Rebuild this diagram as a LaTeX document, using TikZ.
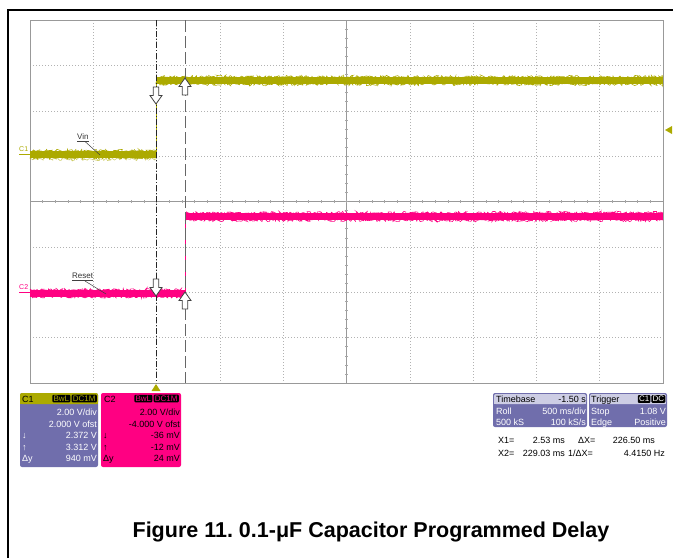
\documentclass[tikz,border=0pt]{standalone}
\usepackage{fontspec}
\setmainfont{Liberation Sans}
\usetikzlibrary{decorations.pathmorphing}
\definecolor{olv}{RGB}{172,170,0}
\definecolor{mag}{RGB}{255,0,130}
\definecolor{prp}{RGB}{112,110,172}
\definecolor{hdr}{RGB}{205,205,228}
\frenchspacing
\tikzset{
  uparr/.pic={\draw[fill=white, line width=0.8pt, draw=black!75, line join=miter] (0,0) -- (-6,8.5) -- (-2.8,8.5) -- (-2.8,17) -- (2.8,17) -- (2.8,8.5) -- (6,8.5) -- cycle;},
  dnarr/.pic={\draw[fill=white, line width=0.8pt, draw=black!75, line join=miter] (0,0) -- (-6,-8.5) -- (-2.8,-8.5) -- (-2.8,-17) -- (2.8,-17) -- (2.8,-8.5) -- (6,-8.5) -- cycle;}
}
\begin{document}
\begin{tikzpicture}[x=1pt,y=-1pt,
  lbl/.style={inner sep=0pt, font=\fontsize{9}{10}\selectfont},
  badge/.style={inner xsep=1.2pt, inner ysep=1pt, fill=black, rounded corners=1pt, font=\fontsize{8}{9}\selectfont},
  gridd/.style={draw=black!30, dash pattern=on 1pt off 2pt, line width=0.5pt},
  gridc/.style={draw=black!40, line width=0.6pt},
  noise/.style={decorate, decoration={random steps, segment length=1.2pt, amplitude=1.6pt}, line width=0.6pt},
  infobox/.style={rounded corners=2pt},
  leader/.style={draw=black!75, line width=0.5pt}
]
\pgfmathsetseed{7}
\useasboundingbox (0,0) rectangle (673,558);
% outer frame
\draw[line width=1.4pt] (8,558) -- (8,10) -- (673,10);

% grid
\foreach \i in {1,2,3,4,6,7,8,9} {
  \draw[gridd] ({30+63.3*\i},20) -- ({30+63.3*\i},383);
}
\foreach \j in {1,2,3,5,6,7} {
  \draw[gridd] (30,{20+45.375*\j}) -- (663,{20+45.375*\j});
}
\draw[gridc] (346.5,20) -- (346.5,383);
\draw[gridc] (30,201.5) -- (663,201.5);
\foreach \k in {1,...,49} {
  \draw[draw=black!35, line width=0.5pt] ({30+12.66*\k},200) -- ({30+12.66*\k},203);
}
\foreach \k in {1,...,39} {
  \draw[draw=black!35, line width=0.5pt] (345,{20+9.075*\k}) -- (348,{20+9.075*\k});
}
\draw[draw=black!40, line width=0.8pt] (30,20) rectangle (663,383);

% C1 trace (olive)
\draw[olv!60, noise] (30,159) -- (156,159);
\fill[olv] (30,151) rectangle (156,158);
\draw[olv, noise] (30,151) -- (156,151);
\draw[olv, noise] (30,157.5) -- (156,157.5);
\draw[olv, line width=0.8pt] (156,158) -- (156,77);
\fill[olv] (156,77) rectangle (663,84);
\draw[olv, noise] (156,77) -- (663,77);
\draw[olv, noise] (156,84) -- (663,84);

% C2 trace (magenta)
\fill[mag] (30,290) rectangle (185,297);
\draw[mag, noise] (30,290) -- (185,290);
\draw[mag, noise] (30,296.5) -- (185,296.5);
\draw[mag, line width=0.8pt] (185,297) -- (185,213);
\fill[mag] (185,213) rectangle (663,220);
\draw[mag, noise] (185,213) -- (663,213);
\draw[mag, noise] (185,220) -- (663,220);

% cursors
\draw[black!85, line width=0.8pt, dash pattern=on 6pt off 2pt on 1pt off 2pt] (156,20) -- (156,383);
\draw[black!60, line width=1pt, dash pattern=on 12pt off 4pt] (185,20) -- (185,383);

% cursor arrows
\pic at (156,104) {dnarr};
\pic at (185,78) {uparr};
\pic at (156,296) {dnarr};
\pic at (185,292) {uparr};

% trigger markers
\fill[olv] (665,130) -- (672,126) -- (672,134) -- cycle;
\fill[olv] (156,384) -- (151.5,391) -- (160.5,391) -- cycle;

% channel markers
\node[lbl, font=\fontsize{7}{8}\selectfont, text=olv, anchor=base west] (c1m) at (19,151) {C1};
\draw[olv, line width=1pt] (19,154.5) -- (30,154.5);
\node[lbl, font=\fontsize{7}{8}\selectfont, text=mag, anchor=base west] (c2m) at (19,289) {C2};
\draw[mag, line width=1pt] (19,292.5) -- (30,292.5);

% trace labels
\node[lbl, font=\fontsize{8}{9}\selectfont, text=black!80, anchor=base west] (vin) at (77,139) {Vin};
\draw[leader] ([yshift=-2pt]vin.base west) -- ([yshift=-2pt]vin.base east);
\coordinate (vinpt) at (100,155);
\draw[leader] (85,141.5) -- (vinpt);
\node[lbl, font=\fontsize{8}{9}\selectfont, text=black!80, anchor=base west] (rst) at (72,278.5) {Reset};
\draw[leader] ([yshift=-2pt]rst.base west) -- ([yshift=-2pt]rst.base east);
\coordinate (rstpt) at (106,294);
\draw[leader] (85,281) -- (rstpt);

% C1 info box
\fill[prp, infobox] (20,393) rectangle (98,467);
\fill[olv, rounded corners=2pt] (20,393) rectangle (98,404);
\fill[olv] (20,400) rectangle (98,404);
\node[lbl, anchor=base west] (c1h) at (22,402) {C1};
\node[badge, text=olv, anchor=east] (c1dc) at (97,398.5) {DC1M};
\node[badge, text=olv, anchor=east] (c1bw) at ([xshift=-1pt]c1dc.west) {BwL};
\node[lbl, text=white, anchor=base east] (c1a) at (97,415.5) {2.00 V/div};
\node[lbl, text=white, anchor=base east] (c1b) at (97,427) {2.000 V ofst};
\node[lbl, text=white, anchor=base east] (c1c) at (97,438.5) {2.372 V};
\node[lbl, text=white, anchor=base east] (c1d) at (97,450) {3.312 V};
\node[lbl, text=white, anchor=base east] (c1e) at (97,461.5) {940 mV};
\node[lbl, text=white, anchor=base west] (c1f) at (22,438.5) {↓};
\node[lbl, text=white, anchor=base west] (c1g) at (22,450) {↑};
\node[lbl, text=white, anchor=base west] (c1i) at (22,461.5) {Δy};

% C2 info box
\fill[mag, infobox] (101,393) rectangle (181,467);
\node[lbl, text=black, anchor=base west] (c2h) at (104,402) {C2};
\node[badge, text=mag, anchor=east] (c2dc) at (179,398.5) {DC1M};
\node[badge, text=mag, anchor=east] (c2bw) at ([xshift=-1pt]c2dc.west) {BwL};
\node[lbl, text=black, anchor=base east] (c2a) at (180,415.5) {2.00 V/div};
\node[lbl, text=black, anchor=base east] (c2b) at (180,427) {-4.000 V ofst};
\node[lbl, text=black, anchor=base east] (c2c) at (180,438.5) {-36 mV};
\node[lbl, text=black, anchor=base east] (c2d) at (180,450) {-12 mV};
\node[lbl, text=black, anchor=base east] (c2e) at (180,461.5) {24 mV};
\node[lbl, text=black, anchor=base west] (c2f) at (103,438.5) {↓};
\node[lbl, text=black, anchor=base west] (c2g) at (103,450) {↑};
\node[lbl, text=black, anchor=base west] (c2i) at (103,461.5) {Δy};

% Timebase box
\fill[prp, infobox] (493,393) rectangle (587,427);
\fill[hdr, rounded corners=2pt] (494,394) rectangle (586,404);
\fill[hdr] (494,400) rectangle (586,404);
\node[lbl, anchor=base west] (tbh) at (496,402.5) {Timebase};
\node[lbl, anchor=base east] (tbv) at (586,402.5) {-1.50 s};
\node[lbl, text=white, anchor=base west] (tb1) at (496,414.5) {Roll};
\node[lbl, text=white, anchor=base east] (tb2) at (586,414.5) {500 ms/div};
\node[lbl, text=white, anchor=base west] (tb3) at (496,425.5) {500 kS};
\node[lbl, text=white, anchor=base east] (tb4) at (586,425.5) {100 kS/s};

% Trigger box
\fill[prp, infobox] (589,393) rectangle (667,427);
\fill[hdr, rounded corners=2pt] (590,394) rectangle (666,404);
\fill[hdr] (590,400) rectangle (666,404);
\node[lbl, anchor=base west] (trh) at (591,402.5) {Trigger};
\node[badge, text=white, anchor=east] (trdc) at (665.5,399) {DC};
\node[badge, text=white, anchor=east] (trc1) at ([xshift=-0.5pt]trdc.west) {C1};
\node[lbl, text=white, anchor=base west] (tr1) at (591,414.5) {Stop};
\node[lbl, text=white, anchor=base east] (tr2) at (666,414.5) {1.08 V};
\node[lbl, text=white, anchor=base west] (tr3) at (591,425.5) {Edge};
\node[lbl, text=white, anchor=base east] (tr4) at (666,425.5) {Positive};

% cursor readouts
\node[lbl, anchor=base west] (x1l) at (498,443.5) {X1=};
\node[lbl, anchor=base east] (x1v) at (565,443.5) {2.53 ms};
\node[lbl, anchor=base west] (dxl) at (578,443.5) {ΔX=};
\node[lbl, anchor=base east] (dxv) at (655,443.5) {226.50 ms};
\node[lbl, anchor=base west] (x2l) at (498,456.5) {X2=};
\node[lbl, anchor=base east] (x2v) at (565,456.5) {229.03 ms};
\node[lbl, anchor=base west] (idxl) at (568,456.5) {1/ΔX=};
\node[lbl, anchor=base east] (idxv) at (665,456.5) {4.4150 Hz};

% caption
\node[inner sep=0pt, font=\bfseries\fontsize{21.5}{24}\selectfont, anchor=base] (cap) at (371,537) {Figure 11. 0.1-μF Capacitor Programmed Delay};
\end{tikzpicture}
\end{document}
